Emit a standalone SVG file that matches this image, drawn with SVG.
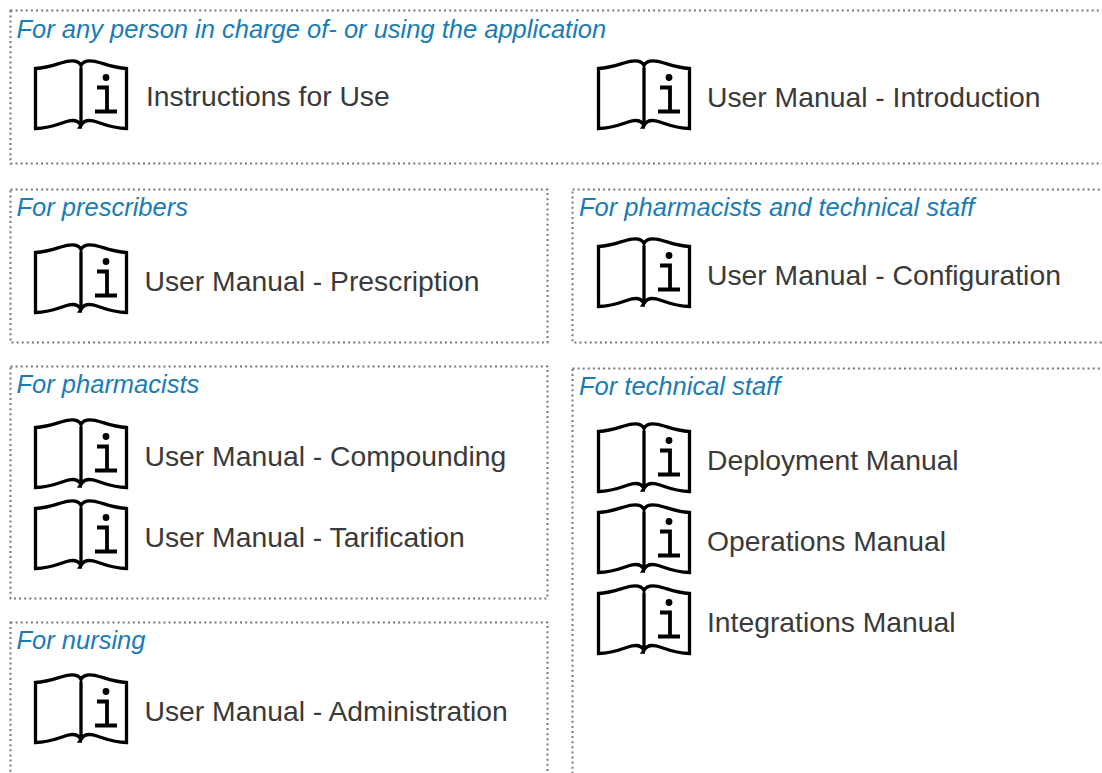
<svg xmlns="http://www.w3.org/2000/svg" xmlns:xlink="http://www.w3.org/1999/xlink" width="1102" height="773" viewBox="0 0 1102 773">
<style>
text{font-family:"Liberation Sans",Arial,sans-serif}
.box{fill:none;stroke:#777;stroke-width:2;stroke-dasharray:2 3.1}
.h{font-size:25.5px;font-style:italic;fill:#1a7cb4}
.t{font-size:28.3px;fill:#3a3a3a}
.b{fill:#fff;stroke:#000;stroke-width:3.300;stroke-linejoin:miter}
</style>
<defs>
<g id="book">
<path class="b" d="M0 7V65C-3 59 -9 59 -16 61.500C-26 65 -34 68 -45.500 68V8C-35 7.500 -28 5 -20 2.500C-12 0 -3 -1 0 5C3 -1 12 0 20 2.500C28 5 35 7.500 45.500 8V68C34 68 26 65 16 61.500C9 59 3 59 0 65L-1 66.500H1"/>
<circle cx="25" cy="17" r="3.400" fill="#000"/>
<path d="M16 27H26V51M14 51H36" fill="none" stroke="#000" stroke-width="3.800"/>
</g>
</defs>
<rect width="1102" height="773" fill="#fff"/>
<g id="audience-all"><rect class="box" x="10.500" y="10.500" width="1100" height="153"/><text class="h" x="16.500" y="37.500">For any person in charge of- or using the application</text></g>
<g id="audience-prescribers"><rect class="box" x="10.500" y="189.500" width="537" height="153"/><text class="h" x="16.500" y="216">For prescribers</text></g>
<g id="audience-pharmacists-technical"><rect class="box" x="572.500" y="189.500" width="540" height="153"/><text class="h" x="579" y="216">For pharmacists and technical staff</text></g>
<g id="audience-pharmacists"><rect class="box" x="10.500" y="366.500" width="537" height="232"/><text class="h" x="16.500" y="393">For pharmacists</text></g>
<g id="audience-technical"><rect class="box" x="572.500" y="368.500" width="540" height="420"/><text class="h" x="579" y="395">For technical staff</text></g>
<g id="audience-nursing"><rect class="box" x="10.500" y="622.500" width="537" height="170"/><text class="h" x="16.500" y="648.500">For nursing</text></g>
<g id="doc-ifu"><use href="#book" x="81" y="60.500"/><text class="t" x="146" y="105.500">Instructions for Use</text></g>
<g id="doc-intro"><use href="#book" x="644" y="60.500"/><text class="t" x="707" y="107.300">User Manual - Introduction</text></g>
<g id="doc-prescription"><use href="#book" x="81" y="244.500"/><text class="t" x="144.500" y="290.500">User Manual - Prescription</text></g>
<g id="doc-configuration"><use href="#book" x="644" y="238.500"/><text class="t" x="707" y="284.500">User Manual - Configuration</text></g>
<g id="doc-compounding"><use href="#book" x="81" y="419.500"/><text class="t" x="144.500" y="465.500">User Manual - Compounding</text></g>
<g id="doc-tarification"><use href="#book" x="81" y="500.500"/><text class="t" x="144.500" y="546.500">User Manual - Tarification</text></g>
<g id="doc-administration"><use href="#book" x="81" y="674.500"/><text class="t" x="144.500" y="720.500">User Manual - Administration</text></g>
<g id="doc-deployment"><use href="#book" x="644" y="423.500"/><text class="t" x="707" y="469.500">Deployment Manual</text></g>
<g id="doc-operations"><use href="#book" x="644" y="504.500"/><text class="t" x="707" y="550.500">Operations Manual</text></g>
<g id="doc-integrations"><use href="#book" x="644" y="585.500"/><text class="t" x="707" y="631.500">Integrations Manual</text></g>
<g id="connectors"/>
</svg>
